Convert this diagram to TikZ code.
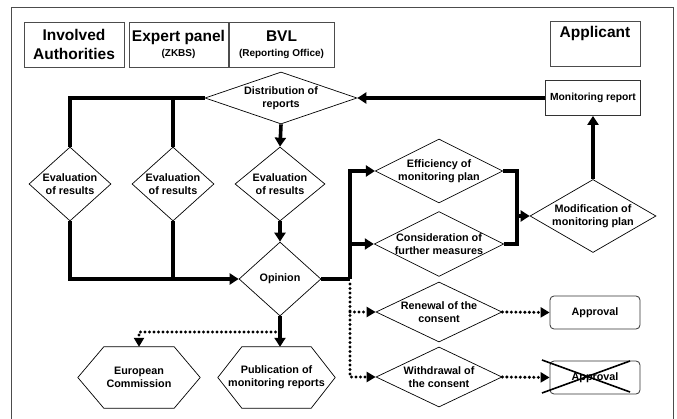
\documentclass[tikz,border=0pt]{standalone}
\usepackage{fontspec}
\setmainfont{Liberation Sans}
\usetikzlibrary{shapes.geometric,arrows.meta,calc}
\begin{document}
\begin{tikzpicture}[x=1pt,y=-1pt,
  every node/.style={font=\bfseries},
  hdr/.style={draw=black!70, line width=0.9pt, minimum height=45pt, inner sep=0pt, align=center, font=\bfseries\fontsize{15.5}{18.5}\selectfont},
  dia/.style={diamond, draw, line width=0.7pt, inner sep=0pt, align=center, font=\bfseries\fontsize{10.8}{12.8}\selectfont},
  hexa/.style={inner sep=0pt, align=center, minimum height=61pt, font=\bfseries\fontsize{10.8}{12.8}\selectfont},
  rbox/.style={draw=black!80, line width=0.8pt, inner sep=0pt, align=center, font=\bfseries\fontsize{10.8}{12.8}\selectfont},
  flow/.style={line width=3.6pt},
  tip/.style={-{Triangle[length=9pt,width=11pt]}},
  dots/.style={line width=3.4pt, line cap=round, dash pattern=on 0pt off 4.5pt},
  dtip/.style={-{Triangle[length=9pt,width=10pt]}},
]
\useasboundingbox (0,0) rectangle (677,419);
% frame
\draw[black!70, line width=0.9pt] (11,419) -- (11,7) -- (673,7) -- (673,419);

% header
\node[hdr, minimum width=100pt] (inv) at (74,44.5) {Involved\\Authorities};
\node[hdr, minimum width=99pt] (exp) at (178.5,44.5) {Expert panel\\[-3pt]{\fontsize{10}{12}\selectfont (ZKBS)}};
\node[hdr, minimum width=105pt] (bvl) at (281.5,44.5) {BVL\\[-3pt]{\fontsize{10}{12}\selectfont (Reporting Office)}};
\node[hdr, minimum width=90pt] (app) at (595,43.5) {};
\node[anchor=north, inner sep=0pt, font=\bfseries\fontsize{15.5}{18.5}\selectfont] (apptxt) at ([yshift=-6pt]app.north) {Applicant};

% boxes
\node[rbox, minimum width=95pt, minimum height=35pt, font=\bfseries\fontsize{10.3}{12}\selectfont] (mon) at (593,98) {Monitoring report};
\node[rbox, rounded corners=4pt, minimum width=90pt, minimum height=33pt] (ap1) at (595,312.5) {Approval};
\node[rbox, rounded corners=4pt, minimum width=90pt, minimum height=33pt] (ap2) at (595,377.5) {Approval};

% diamonds
\node[dia, minimum width=152pt, minimum height=52pt, aspect=2.9] (dist) at (281,98) {Distribution of\\reports};
\node[dia, minimum width=82pt, minimum height=74pt, aspect=1.1] (e1) at (70,184) {Evaluation\\of results};
\node[dia, minimum width=82pt, minimum height=74pt, aspect=1.1] (e2) at (173,184) {Evaluation\\of results};
\node[dia, minimum width=90pt, minimum height=74pt, aspect=1.2] (e3) at (280,184) {Evaluation\\of results};
\node[dia, minimum width=82pt, minimum height=74pt, aspect=1.1] (op) at (280,279) {Opinion};
\node[dia, minimum width=126pt, minimum height=64pt, aspect=2] (eff) at (439,171) {Efficiency of\\monitoring plan};
\node[dia, minimum width=126pt, minimum height=62pt, aspect=2] (cons) at (439,244) {Consideration of\\further measures};
\node[dia, minimum width=126pt, minimum height=73pt, aspect=1.7] (mod) at (593,216) {Modification of\\monitoring plan};
\node[dia, minimum width=126pt, minimum height=60pt, aspect=2.1] (ren) at (439,312) {Renewal of the\\consent};
\node[dia, minimum width=126pt, minimum height=60pt, aspect=2.1] (wd) at (439,377) {Withdrawal of\\the consent};

% hexagons
\node[hexa, minimum width=122pt] (ec) at (139,377.5) {European\\Commission};
\draw[line width=0.7pt] ($(ec.north west)+(26,0)$) -- ($(ec.north east)+(-26,0)$) -- (ec.east) -- ($(ec.south east)+(-26,0)$) -- ($(ec.south west)+(26,0)$) -- (ec.west) -- cycle;
\node[hexa, minimum width=117pt] (pub) at (276.5,377.5) {Publication of\\monitoring reports};
\draw[line width=0.7pt] ($(pub.north west)+(24,0)$) -- ($(pub.north east)+(-24,0)$) -- (pub.east) -- ($(pub.south east)+(-24,0)$) -- ($(pub.south west)+(24,0)$) -- (pub.west) -- cycle;

% cross on withdrawn approval
\draw[line width=1.6pt] (542,360) -- (630,392);
\draw[line width=1.6pt] (542,393) -- (630,361);

% coordinates
\coordinate (j) at (350,279);
\coordinate (k) at (517,216);
\coordinate (d1) at (280,332);

% thick connectors
\draw[flow, tip] (mon.west) -- (dist.east);
\draw[flow] (dist.west) -| (e1.north);
\draw[flow] (e2.north |- dist.west) -- (e2.north);
\draw[flow, tip] (dist.south) -- (e3.north);
\draw[flow, tip] (e1.south) |- (op.west);
\draw[flow] (e2.south) -- (e2.south |- op.west);
\draw[flow, tip] (e3.south) -- (op.north);
\draw[flow, tip] (op.south) -- (op.south |- pub.north);
\draw[flow] (op.east) -- (j);
\draw[flow, tip] (j) |- (eff.west);
\draw[flow, tip] (j |- cons.west) -- (cons.west);
\draw[flow] (eff.east) -| (k);
\draw[flow] (cons.east) -| (k);
\draw[flow, tip] (k) -- (mod.west);
\draw[flow, tip] (mod.north) -- (mon.south);

% dotted connectors
\draw[dots, dtip] (d1) -| (ec.north);
\draw[dots, dtip] ([yshift=-5pt]j) |- (wd.west);
\draw[dots, dtip] (j |- ren.west) -- (ren.west);
\draw[dots, dtip] (ren.east) -- (ap1.west);
\draw[dots, dtip] (wd.east) -- (ap2.west);
\end{tikzpicture}
\end{document}
